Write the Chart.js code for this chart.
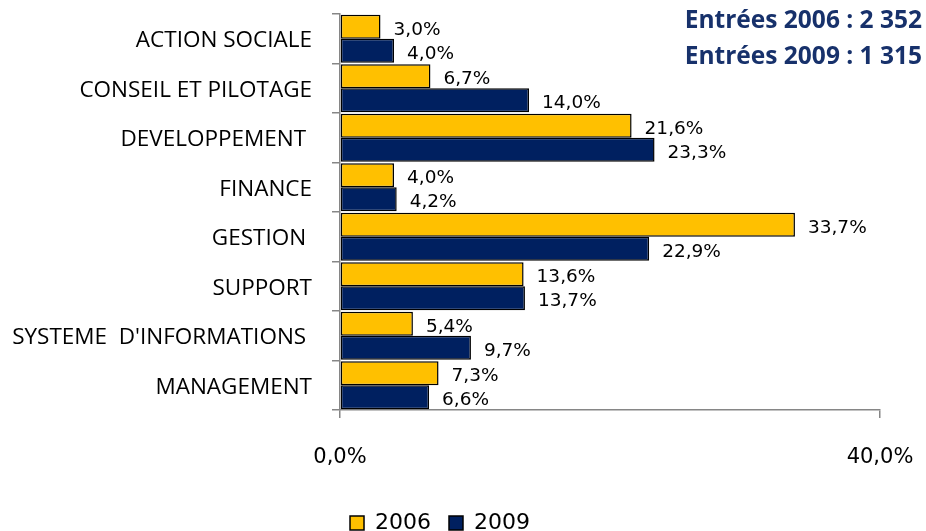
<!DOCTYPE html>
<html>
<head>
<meta charset="utf-8">
<script src="https://cdn.jsdelivr.net/npm/chart.js@4.4.0/dist/chart.umd.min.js"></script>
<style>
  html, body { margin: 0; padding: 0; background: #fff; overflow: hidden; }
  #wrap { width: 926px; height: 531px; }
</style>
</head>
<body>
<div id="wrap"><canvas id="chart" width="926" height="531"></canvas></div>
<script>
// Répartition des entrées par famille de métiers (%)
const categories = [
    'ACTION SOCIALE',
    'CONSEIL ET PILOTAGE',
    'DEVELOPPEMENT ',
    'FINANCE',
    'GESTION ',
    'SUPPORT',
    'SYSTEME  D\'INFORMATIONS ',
    'MANAGEMENT'
];
const values2006 = [3.0, 6.7, 21.6, 4.0, 33.7, 13.6, 5.4, 7.3];
const values2009 = [4.0, 14.0, 23.3, 4.2, 22.9, 13.7, 9.7, 6.6];
const seriesLabels = ['2006', '2009'];
const xTicks = [0, 40];
const entrees = ['Entrées 2006 : 2 352', 'Entrées 2009 : 1 315'];

function formatPct(v) {
    return v.toFixed(1).replace('.', ',') + '%';
}

// Value labels next to each bar
const valueLabels = {
    id: 'valueLabels',
    afterDatasetsDraw(chart) {
        const ctx = chart.ctx;
        ctx.save();
        ctx.font = '18.5px "DejaVu Sans"';
        ctx.fillStyle = '#000';
        ctx.textAlign = 'left';
        ctx.textBaseline = 'middle';
        chart.data.datasets.forEach((ds, i) => {
            chart.getDatasetMeta(i).data.forEach((bar, j) => {
                ctx.fillText(formatPct(ds.data[j]), bar.x + 13, bar.y + 3);
            });
        });
        ctx.restore();
    }
};

// Totals in the top right corner
const entreesText = {
    id: 'entreesText',
    afterDraw(chart) {
        const ctx = chart.ctx;
        ctx.save();
        ctx.font = 'bold 24.5px "Open Sans"';
        ctx.fillStyle = '#17316b';
        ctx.textAlign = 'right';
        ctx.textBaseline = 'middle';
        ctx.fillText(entrees[0], 922, 21);
        ctx.fillText(entrees[1], 922, 57);
        ctx.restore();
    }
};

const ctx = document.getElementById('chart').getContext('2d');
new Chart(ctx, {
    type: 'bar',
    data: {
        labels: categories,
        datasets: [{
            label: seriesLabels[0],
            data: values2006,
            backgroundColor: '#ffc000',
            borderColor: '#000',
            borderWidth: 1.5,
            borderSkipped: false
        }, {
            label: seriesLabels[1],
            data: values2009,
            backgroundColor: '#002060',
            borderColor: '#000',
            borderWidth: 1.5,
            borderSkipped: false
        }]
    },
    options: {
        indexAxis: 'y',
        responsive: false,
        animation: false,
        datasets: {
            bar: {
                categoryPercentage: 0.97,
                barPercentage: 1.0
            }
        },
        layout: {
            padding: { top: 14, right: 46, left: 0, bottom: -13 }
        },
        scales: {
            y: {
                afterFit: scale => {
                    scale.width = 340;
                    scale.paddingTop = 0;
                    scale.paddingBottom = 0;
                },
                grid: {
                    drawOnChartArea: false,
                    color: '#868686',
                    lineWidth: 1.5,
                    tickLength: 8,
                    offset: true
                },
                border: { color: '#868686', width: 1.5 },
                ticks: {
                    color: '#000',
                    padding: 20,
                    labelOffset: 2,
                    font: { family: 'Open Sans', size: 22.5 }
                }
            },
            x: {
                min: 0,
                max: 40,
                afterFit: scale => {
                    scale.height = 84;
                    scale.paddingLeft = 0;
                    scale.paddingRight = 0;
                },
                afterBuildTicks: scale => {
                    scale.ticks = xTicks.map(v => ({ value: v }));
                },
                grid: {
                    drawOnChartArea: false,
                    color: '#868686',
                    lineWidth: 1.5,
                    tickLength: 8
                },
                border: { color: '#868686', width: 1.5 },
                ticks: {
                    color: '#000',
                    padding: 27,
                    maxRotation: 0,
                    font: { family: 'DejaVu Sans', size: 21 },
                    callback: value => formatPct(value)
                }
            }
        },
        plugins: {
            legend: {
                position: 'bottom',
                labels: {
                    color: '#000',
                    boxWidth: 14,
                    boxHeight: 14,
                    padding: 18,
                    font: { family: 'DejaVu Sans', size: 22 }
                }
            },
            tooltip: { enabled: false }
        }
    },
    plugins: [valueLabels, entreesText]
});
</script>
</body>
</html>
